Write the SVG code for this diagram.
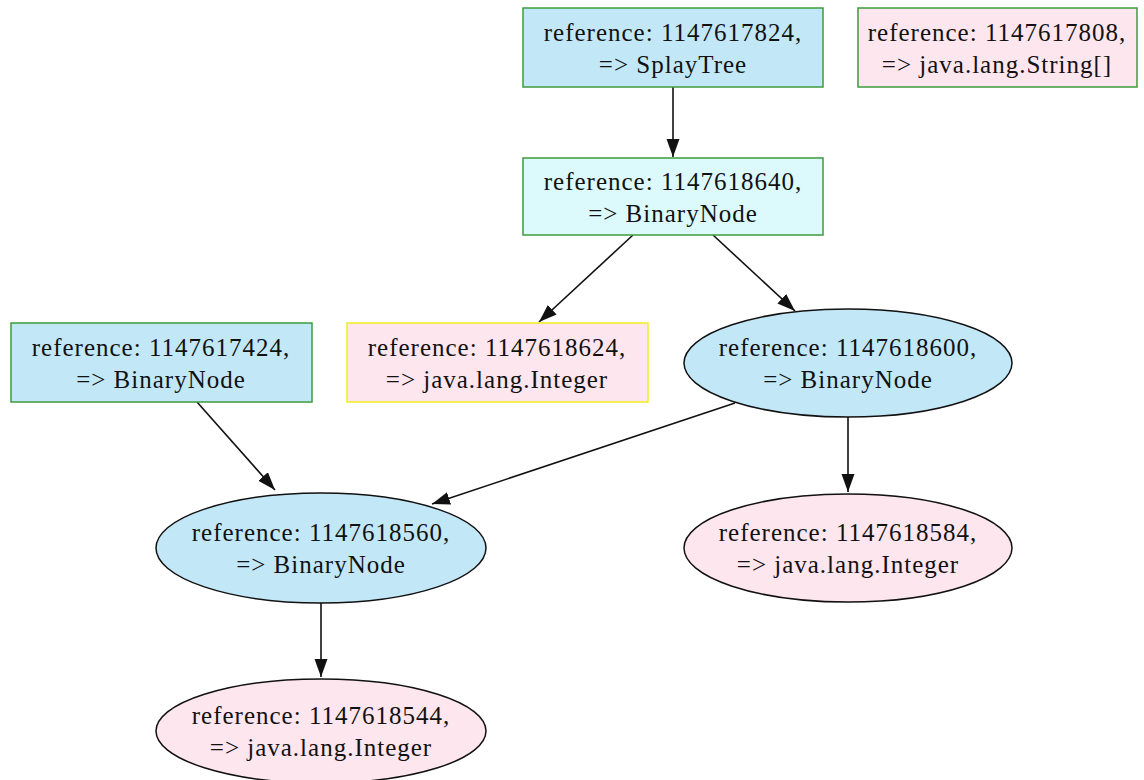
<svg xmlns="http://www.w3.org/2000/svg" width="1144" height="780" viewBox="0 0 1144 780">
  <style>
    text { font-family: "Liberation Serif", "Times New Roman", serif; font-size: 25px; fill: #111; text-anchor: middle; letter-spacing: 1px; }
    .blue { fill: #c2e8f8; }
    .cyan { fill: #dcfafc; }
    .pink { fill: #fde6ee; }
    .box { stroke: #3c9c3c; stroke-width: 1.5; }
    .ybox { stroke: #f2ee22; stroke-width: 1.5; }
    .oval { stroke: #111; stroke-width: 1.5; }
    .edge { stroke: #111; stroke-width: 1.6; fill: none; marker-end: url(#arrow); }
  </style>
  <defs>
    <marker id="arrow" viewBox="0 0 10 10" refX="10" refY="5" markerWidth="18" markerHeight="18" markerUnits="userSpaceOnUse" orient="auto">
      <path d="M0,1.4 L10,5 L0,8.6 Z" fill="#111"/>
    </marker>
  </defs>
  <rect width="1144" height="780" fill="#fff"/>

  <g id="connectors">
    <line class="edge" x1="673" y1="87" x2="673" y2="157"/>
    <line class="edge" x1="633" y1="235" x2="539" y2="322"/>
    <line class="edge" x1="713" y1="235" x2="795" y2="311"/>
    <line class="edge" x1="197" y1="402" x2="275" y2="490"/>
    <line class="edge" x1="735" y1="403" x2="432" y2="504"/>
    <line class="edge" x1="848" y1="417" x2="848" y2="492"/>
    <line class="edge" x1="321" y1="603" x2="321" y2="677"/>
  </g>

  <g id="n1147617824">
    <rect class="blue box" x="523" y="8" width="300" height="79"/>
    <text x="673" y="41">reference: 1147617824,</text>
    <text x="673" y="73">=&gt; SplayTree</text>
  </g>

  <g id="n1147617808">
    <rect class="pink box" x="858" y="8" width="279" height="79"/>
    <text x="997" y="41">reference: 1147617808,</text>
    <text x="997" y="73">=&gt; java.lang.String[]</text>
  </g>

  <g id="n1147618640">
    <rect class="cyan box" x="523" y="158" width="300" height="77"/>
    <text x="673" y="190">reference: 1147618640,</text>
    <text x="673" y="222">=&gt; BinaryNode</text>
  </g>

  <g id="n1147618624">
    <rect class="pink ybox" x="347" y="323" width="301" height="79"/>
    <text x="497" y="356">reference: 1147618624,</text>
    <text x="497" y="388">=&gt; java.lang.Integer</text>
  </g>

  <g id="n1147617424">
    <rect class="blue box" x="11" y="323" width="301" height="79"/>
    <text x="161" y="356">reference: 1147617424,</text>
    <text x="161" y="388">=&gt; BinaryNode</text>
  </g>

  <g id="n1147618600">
    <ellipse class="blue oval" cx="848" cy="363" rx="164" ry="54"/>
    <text x="848" y="356">reference: 1147618600,</text>
    <text x="848" y="388">=&gt; BinaryNode</text>
  </g>

  <g id="n1147618560">
    <ellipse class="blue oval" cx="321" cy="548" rx="165" ry="55"/>
    <text x="321" y="541">reference: 1147618560,</text>
    <text x="321" y="573">=&gt; BinaryNode</text>
  </g>

  <g id="n1147618584">
    <ellipse class="pink oval" cx="848" cy="548" rx="164" ry="54"/>
    <text x="848" y="541">reference: 1147618584,</text>
    <text x="848" y="573">=&gt; java.lang.Integer</text>
  </g>

  <g id="n1147618544">
    <ellipse class="pink oval" cx="321" cy="731" rx="165" ry="52"/>
    <text x="321" y="724">reference: 1147618544,</text>
    <text x="321" y="756">=&gt; java.lang.Integer</text>
  </g>
</svg>
